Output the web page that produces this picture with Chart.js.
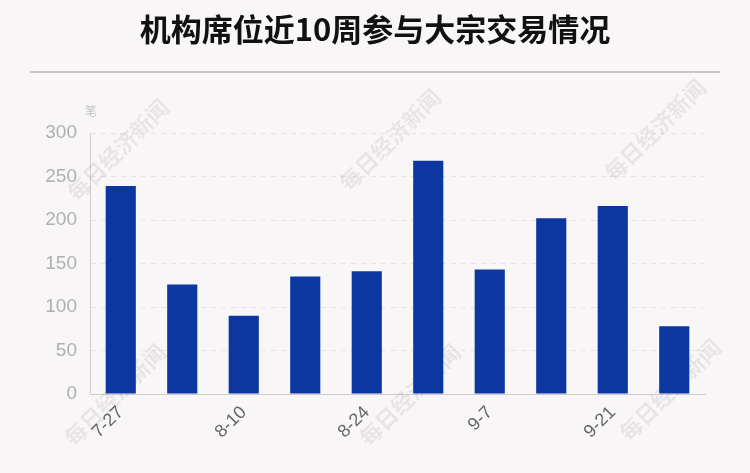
<!DOCTYPE html>
<html>
<head>
<meta charset="utf-8">
<script src="https://cdn.jsdelivr.net/npm/chart.js@4.4.0/dist/chart.umd.min.js"></script>
<style>
  html, body { margin: 0; padding: 0; background: #f9f6f7; }
  #wrap { width: 750px; height: 473px; }
</style>
</head>
<body>
<div id="wrap"><canvas id="chart"></canvas></div>
<script>
  const weeks = ['7-27', '8-3', '8-10', '8-17', '8-24', '8-31', '9-7', '9-14', '9-21', '9-28'];
  const deals = [239, 126, 90, 135, 141, 268, 143, 202, 216, 78];
  const yTicks = [0, 50, 100, 150, 200, 250, 300];
  const chartTitle = '机构席位近10周参与大宗交易情况';

  const CJK = '"Noto Sans CJK SC", "Noto Sans", sans-serif';

  // title, rule under it, unit label and the faint watermark
  const decor = {
    id: 'decor',
    beforeDatasetsDraw(chart) {
      const ctx = chart.ctx;
      ctx.save();
      ctx.font = 'bold 22px ' + CJK;
      ctx.fillStyle = 'rgba(0, 0, 0, 0.07)';
      ctx.textAlign = 'center';
      ctx.textBaseline = 'middle';
      [[118, 150], [390, 140], [655, 130], [115, 395], [410, 395], [670, 390]].forEach(([x, y]) => {
        ctx.save();
        ctx.translate(x, y);
        ctx.rotate(-Math.PI / 4);
        ctx.fillText('每日经济新闻', 0, 0);
        ctx.restore();
      });
      ctx.restore();
    },
    afterDraw(chart) {
      const ctx = chart.ctx;
      ctx.save();
      ctx.fillStyle = '#111';
      ctx.font = 'bold 31px ' + CJK;
      ctx.textAlign = 'center';
      ctx.textBaseline = 'middle';
      ctx.fillText(chartTitle, 375, 29);

      ctx.strokeStyle = '#c8c6c7';
      ctx.lineWidth = 2;
      ctx.beginPath();
      ctx.moveTo(30, 72);
      ctx.lineTo(720, 72);
      ctx.stroke();

      ctx.fillStyle = '#c4c4c4';
      ctx.font = '12px ' + CJK;
      ctx.textAlign = 'left';
      ctx.fillText('笔', 85, 111);
      ctx.restore();
    }
  };

  new Chart(document.getElementById('chart'), {
    type: 'bar',
    data: {
      labels: weeks,
      datasets: [{
        data: deals,
        backgroundColor: '#0c36a0',
        barPercentage: 0.49,
        categoryPercentage: 1
      }]
    },
    options: {
      responsive: true,
      maintainAspectRatio: false,
      animation: false,
      layout: { padding: { top: 133, right: 45, bottom: 0, left: 0 } },
      plugins: {
        legend: { display: false },
        tooltip: { enabled: false },
        title: { display: false }
      },
      scales: {
        x: {
          grid: { display: false, drawTicks: false },
          border: { color: '#cfcccd', width: 1 },
          ticks: {
            color: '#666',
            font: { family: '"Liberation Sans", Arial, sans-serif', size: 18 },
            maxRotation: 45,
            minRotation: 45,
            autoSkip: false,
            padding: 8,
            callback(v, i) { return i % 2 === 0 ? weeks[i] : ''; }
          },
          afterFit(scale) { scale.height = 79; }
        },
        y: {
          min: 0,
          max: 300,
          afterBuildTicks(scale) { scale.ticks = yTicks.map(v => ({ value: v })); },
          grid: {
            color: '#e6e3e4',
            drawTicks: false
          },
          border: { color: '#cfcccd', width: 1, dash: [5, 5] },
          ticks: {
            color: '#b0b0b0',
            font: { family: '"Liberation Sans", Arial, sans-serif', size: 19 },
            padding: 13
          },
          afterFit(scale) { scale.width = 90; }
        }
      }
    },
    plugins: [decor]
  });
</script>
</body>
</html>
